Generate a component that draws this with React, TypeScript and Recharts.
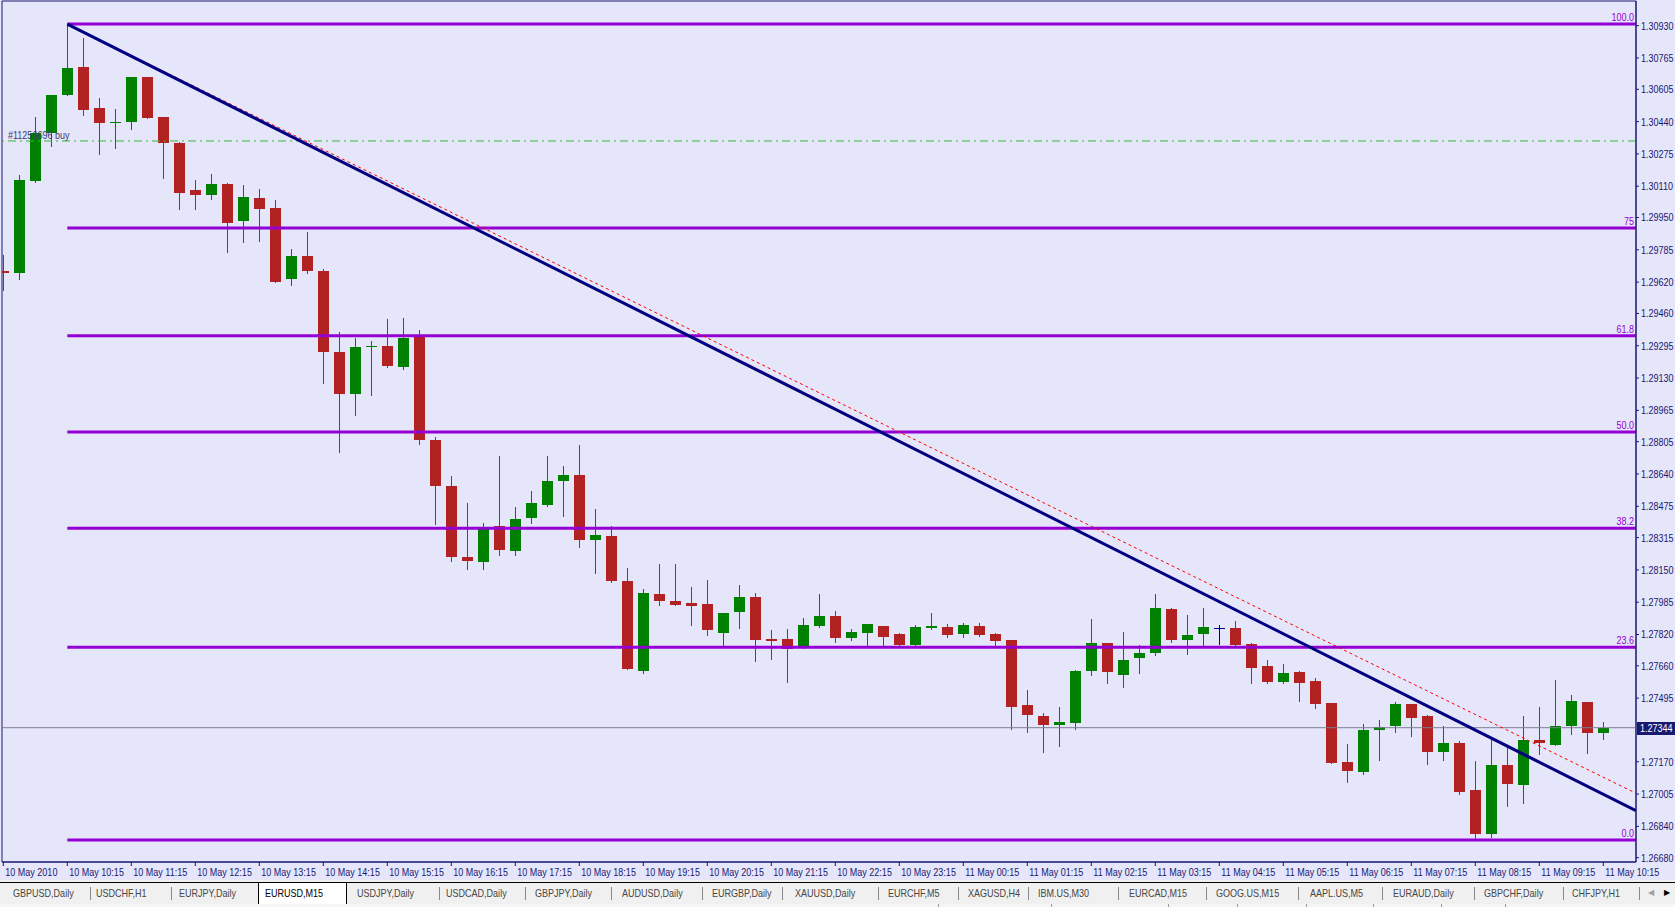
import React from "react";
import { Bar, ComposedChart, ReferenceArea, ReferenceLine, XAxis, YAxis } from "recharts";

// EURUSD M15, 10 May 09:15 -> 11 May 10:15 (101 bars)
const OPEN = [
  1.29677, 1.29668, 1.30137, 1.3038, 1.30577, 1.30719, 1.30509, 1.30433, 1.30436, 1.30666,
  1.30463, 1.30329, 1.30089, 1.30067, 1.30121, 1.29934, 1.3005, 1.29999, 1.29634, 1.29753,
  1.29677, 1.29263, 1.2905, 1.29292, 1.29294, 1.29188, 1.29341, 1.28814, 1.28579, 1.28216,
  1.28192, 1.28373, 1.28248, 1.28417, 1.28482, 1.28606, 1.28635, 1.28304, 1.28323, 1.28095,
  1.27635, 1.28027, 1.2799, 1.27981, 1.27976, 1.27829, 1.27937, 1.28012, 1.27799, 1.27797,
  1.27753, 1.27863, 1.27915, 1.27802, 1.27828, 1.27862, 1.27823, 1.27766, 1.27853, 1.27858,
  1.27823, 1.27864, 1.27823, 1.27792, 1.2746, 1.27404, 1.27359, 1.2737, 1.27634, 1.27777,
  1.27615, 1.27702, 1.27727, 1.2795, 1.27792, 1.27824, 1.27853, 1.27853, 1.27772, 1.27659,
  1.27576, 1.27627, 1.27583, 1.2747, 1.27169, 1.27118, 1.27334, 1.27354, 1.27465, 1.27404,
  1.27221, 1.27266, 1.27026, 1.26802, 1.27153, 1.27053, 1.27283, 1.27257, 1.27354, 1.27475,
  1.27318,
];
const HIGH = [
  1.29759, 1.30169, 1.30462, 1.30576, 1.30938, 1.30865, 1.30559, 1.30504, 1.30668, 1.30668,
  1.30465, 1.30337, 1.3014, 1.30172, 1.30126, 1.30115, 1.30094, 1.3004, 1.29789, 1.29876,
  1.29687, 1.29364, 1.29333, 1.29318, 1.29432, 1.29435, 1.29376, 1.28827, 1.2863, 1.28492,
  1.28388, 1.28732, 1.2847, 1.28553, 1.28732, 1.28681, 1.28788, 1.28461, 1.28374, 1.2816,
  1.28053, 1.2818, 1.2818, 1.28063, 1.28098, 1.2793, 1.28073, 1.28032, 1.27843, 1.27848,
  1.27904, 1.28027, 1.2794, 1.27848, 1.27874, 1.27864, 1.27828, 1.27869, 1.2793, 1.27874,
  1.27879, 1.27879, 1.27828, 1.27794, 1.27537, 1.27419, 1.2745, 1.27639, 1.27899, 1.27779,
  1.27833, 1.27766, 1.28027, 1.27957, 1.2792, 1.27957, 1.27869, 1.27889, 1.27777, 1.2769,
  1.27669, 1.27634, 1.27598, 1.27472, 1.27261, 1.27363, 1.27383, 1.27475, 1.27467, 1.27409,
  1.27353, 1.27276, 1.27174, 1.27281, 1.27251, 1.27404, 1.2745, 1.27588, 1.27511, 1.27477,
  1.27373,
];
const LOW = [
  1.2958, 1.29638, 1.30133, 1.30317, 1.30575, 1.30474, 1.30274, 1.30307, 1.30404, 1.30457,
  1.30153, 1.29996, 1.29996, 1.30046, 1.29772, 1.29827, 1.29832, 1.29619, 1.29604, 1.29667,
  1.29106, 1.28754, 1.28943, 1.29045, 1.29185, 1.29178, 1.28792, 1.28386, 1.28197, 1.28156,
  1.28156, 1.28228, 1.28228, 1.28391, 1.28477, 1.28427, 1.28269, 1.28136, 1.28088, 1.27642,
  1.27625, 1.27971, 1.2797, 1.27869, 1.27818, 1.27758, 1.27855, 1.27686, 1.27697, 1.27579,
  1.27751, 1.2786, 1.27782, 1.27792, 1.27756, 1.27756, 1.27756, 1.27756, 1.27848, 1.27807,
  1.27807, 1.27812, 1.27756, 1.27339, 1.27324, 1.27221, 1.27252, 1.27339, 1.27615, 1.27574,
  1.27554, 1.27625, 1.27717, 1.27783, 1.27722, 1.27758, 1.27773, 1.27758, 1.27574, 1.27574,
  1.27574, 1.27482, 1.27446, 1.27162, 1.27068, 1.27109, 1.27181, 1.27324, 1.27303, 1.2716,
  1.27181, 1.27007, 1.26771, 1.26787, 1.26945, 1.26961, 1.27211, 1.27255, 1.27313, 1.27216,
  1.27288,
];
const CLOSE = [
  1.29667, 1.30142, 1.30383, 1.30574, 1.30714, 1.30501, 1.30434, 1.30436, 1.30666, 1.3046,
  1.30332, 1.30077, 1.30067, 1.30121, 1.29924, 1.30055, 1.29995, 1.29621, 1.29753, 1.29677,
  1.29265, 1.2905, 1.29289, 1.29296, 1.29192, 1.29335, 1.28814, 1.28579, 1.28218, 1.28197,
  1.28363, 1.28253, 1.2841, 1.28492, 1.28604, 1.28635, 1.28304, 1.28327, 1.28095, 1.27645,
  1.28032, 1.27991, 1.27972, 1.27967, 1.27845, 1.27928, 1.28012, 1.27794, 1.27788, 1.27746,
  1.27869, 1.27915, 1.27802, 1.27833, 1.27872, 1.27807, 1.27766, 1.27858, 1.27863, 1.27818,
  1.27869, 1.27818, 1.27787, 1.27451, 1.2741, 1.27359, 1.27373, 1.27634, 1.27777, 1.2763,
  1.2769, 1.27726, 1.27955, 1.27792, 1.27818, 1.27858, 1.27853, 1.27768, 1.27651, 1.27579,
  1.27622, 1.27574, 1.27467, 1.27165, 1.27125, 1.27332, 1.27348, 1.27465, 1.27395, 1.27221,
  1.27266, 1.27017, 1.26802, 1.27153, 1.27058, 1.27281, 1.27267, 1.27353, 1.2748, 1.27318,
  1.27344,
];

const TIME_TICKS = [0, 4, 8, 12, 16, 20, 24, 28, 32, 36, 40, 44, 48, 52, 56, 60, 64, 68, 72, 76, 80, 84, 88, 92, 96, 100];
const TIME_LABELS = [
  "10 May 2010", "10 May 10:15", "10 May 11:15", "10 May 12:15", "10 May 13:15", "10 May 14:15",
  "10 May 15:15", "10 May 16:15", "10 May 17:15", "10 May 18:15", "10 May 19:15", "10 May 20:15",
  "10 May 21:15", "10 May 22:15", "10 May 23:15", "11 May 00:15", "11 May 01:15", "11 May 02:15",
  "11 May 03:15", "11 May 04:15", "11 May 05:15", "11 May 06:15", "11 May 07:15", "11 May 08:15",
  "11 May 09:15", "11 May 10:15",
];
const PRICE_TICKS = [
  1.3093, 1.30765, 1.30605, 1.3044, 1.30275, 1.3011, 1.2995, 1.29785, 1.2962, 1.2946, 1.29295,
  1.2913, 1.28965, 1.28805, 1.2864, 1.28475, 1.28315, 1.2815, 1.27985, 1.2782, 1.2766, 1.27495,
  1.2717, 1.27005, 1.2684, 1.2668,
];

// fibo retracement anchored on bar 4 high / bar 92 low
const FIB_HIGH = 1.30938;
const FIB_LOW = 1.26771;
const FIB_LEVELS = [100, 75, 61.8, 50, 38.2, 23.6, 0];
const FIB_LABELS = ["100.0", "75", "61.8", "50.0", "38.2", "23.6", "0.0"];

// trendline (navy) and its dotted copy (red), from bar 4 to the right edge
const TREND_BARS = [4, 102.04375];
const TREND_PRICES = [1.30938, 1.2692];
const DOT_PRICES = [1.30938, 1.27009];

const ORDER_PRICE = 1.30341;
const ORDER_LABEL = "#11256696 buy";
const LAST_PRICE = 1.27344;

const TABS = [
  "GBPUSD,Daily", "USDCHF,H1", "EURJPY,Daily", "EURUSD,M15", "USDJPY,Daily", "USDCAD,Daily",
  "GBPJPY,Daily", "AUDUSD,Daily", "EURGBP,Daily", "XAUUSD,Daily", "EURCHF,M5", "XAGUSD,H4",
  "IBM.US,M30", "EURCAD,M15", "GOOG.US,M15", "AAPL.US,M5", "EURAUD,Daily", "GBPCHF,Daily", "CHFJPY,H1",
];
const ACTIVE_TAB = 3;

// layout of the terminal chrome (not data)
const TAB_LEFT = [13, 96, 179, 265, 357, 446, 535, 622, 712, 795, 888, 968, 1038, 1129, 1216, 1310, 1393, 1484, 1572];
const TAB_SEP = [90, 171, 439, 525, 611, 702, 782, 878, 958, 1028, 1118, 1206, 1298, 1382, 1474, 1563, 1639];
const STATUS_SEP = [938, 1051, 1168, 1237, 1306, 1373, 1441, 1505];

const XMIN = -0.08125;
const XMAX = 102.04375;
const YMIN = 1.26658;
const YMAX = 1.31056;

const FONT = "'Liberation Sans', Arial, sans-serif";
const SQUEEZE = 0.82; // terminal font is narrower than Liberation Sans
const NAVY = "#191970";
const BULL = "#008000";
const BEAR = "#B22222";
const DOJI = "#000080";
const FIB = "#9400D3";
const BG = "#E6E6FA";

const bars = OPEN.map((o, i) => ({ i, o, h: HIGH[i], l: LOW[i], c: CLOSE[i] }));

function Narrow({ x, y, dy, anchor, fill, children }: any) {
  return (
    <text
      transform={`translate(${x} ${y}) scale(${SQUEEZE} 1)`}
      dy={dy}
      textAnchor={anchor || "start"}
      fontSize={11}
      fontFamily={FONT}
      fill={fill}
    >
      {children}
    </text>
  );
}

function Candle(props: any) {
  const { x, y, width, height, payload } = props;
  if (x == null || y == null || !payload) return null;
  const { o, h, l, c } = payload;
  const top = Math.min(y, y + height);
  const bottom = Math.max(y, y + height);
  const k = h === l ? 0 : (bottom - top) / (h - l);
  const py = (v: number) => top + (h - v) * k;
  const cx = Math.round(x + width / 2) + 0.5;
  const color = c > o ? BULL : c < o ? BEAR : DOJI;
  const bTop = Math.round(py(Math.max(o, c)));
  const bBot = Math.round(py(Math.min(o, c)));
  return (
    <g shapeRendering="crispEdges">
      <line x1={cx} x2={cx} y1={Math.round(top)} y2={Math.round(bottom) + 1} stroke={color} strokeWidth={1} />
      <rect x={cx - 5.5} y={bTop} width={11} height={Math.max(bBot - bTop, 1)} fill={color} />
    </g>
  );
}

function TimeTick(props: any) {
  const { x, y, payload } = props;
  const label = TIME_LABELS[TIME_TICKS.indexOf(payload.value)];
  return (
    <Narrow x={x + 2} y={y} dy="0.71em" fill={NAVY}>
      {label}
    </Narrow>
  );
}

function PriceTick(props: any) {
  const { x, y, payload } = props;
  return (
    <Narrow x={x} y={y} dy="0.355em" fill={NAVY}>
      {Number(payload.value).toFixed(5)}
    </Narrow>
  );
}

function FibTag(props: any) {
  const vb = props.viewBox;
  if (!vb) return null;
  return (
    <Narrow x={vb.x + vb.width - 2} y={vb.y - 3} anchor="end" fill={FIB}>
      {props.text}
    </Narrow>
  );
}

function OrderTag(props: any) {
  const vb = props.viewBox;
  if (!vb) return null;
  return (
    <Narrow x={vb.x + 6} y={vb.y - 2} fill="#3a3a70">
      {ORDER_LABEL}
    </Narrow>
  );
}

function PriceTag(props: any) {
  const vb = props.viewBox;
  if (!vb) return null;
  const x0 = vb.x + vb.width + 1;
  return (
    <g>
      <rect x={x0} y={Math.round(vb.y) - 6} width={40} height={13} fill={NAVY} />
      <Narrow x={x0 + 3} y={vb.y} dy="0.36em" fill="#ffffff">
        {LAST_PRICE.toFixed(5)}
      </Narrow>
    </g>
  );
}

const narrowHtml: React.CSSProperties = {
  position: "absolute",
  top: 886,
  fontSize: 11,
  lineHeight: "14px",
  whiteSpace: "nowrap",
  transform: `scaleX(${SQUEEZE})`,
  transformOrigin: "left center",
};

export default function App() {
  return (
    <div
      style={{
        position: "absolute",
        left: 0,
        top: 0,
        width: 1675,
        height: 907,
        background: "#F0F0F0",
        overflow: "hidden",
        fontFamily: FONT,
      }}
    >
      <div style={{ position: "absolute", left: 0, top: 0, width: 1675, height: 880, background: BG }}>
        <ComposedChart width={1675} height={880} data={bars} margin={{ top: 1, right: 0, bottom: 0, left: 2 }}>
          <XAxis
            type="number"
            dataKey="i"
            domain={[XMIN, XMAX]}
            allowDataOverflow
            ticks={TIME_TICKS}
            interval={0}
            height={18}
            tickSize={4}
            tickMargin={2}
            axisLine={{ stroke: NAVY }}
            tickLine={{ stroke: NAVY }}
            tick={<TimeTick />}
          />
          <YAxis
            orientation="right"
            type="number"
            domain={[YMIN, YMAX]}
            allowDataOverflow
            ticks={PRICE_TICKS}
            interval={0}
            width={39}
            tickSize={3}
            tickMargin={2}
            axisLine={{ stroke: NAVY }}
            tickLine={{ stroke: NAVY }}
            tick={<PriceTick />}
          />
          <ReferenceArea x1={XMIN} x2={XMAX} y1={YMIN} y2={YMAX} fill="none" stroke={NAVY} strokeWidth={1} />
          <ReferenceLine y={ORDER_PRICE} stroke="#33B833" strokeDasharray="8 4 2 4" label={<OrderTag />} />
          <ReferenceLine y={LAST_PRICE} stroke="#7d7d96" strokeWidth={1} label={<PriceTag />} />
          <Bar
            dataKey={(d: any) => [d.l, d.h]}
            barSize={11}
            shape={(p: any) => <Candle {...p} />}
            isAnimationActive={false}
          />
          {FIB_LEVELS.map((lv, j) => {
            const p = FIB_LOW + ((FIB_HIGH - FIB_LOW) * lv) / 100;
            return (
              <ReferenceLine
                key={lv}
                segment={[
                  { x: TREND_BARS[0], y: p },
                  { x: XMAX, y: p },
                ]}
                stroke={FIB}
                strokeWidth={3}
                ifOverflow="hidden"
                label={<FibTag text={FIB_LABELS[j]} />}
              />
            );
          })}
          <ReferenceLine
            segment={[
              { x: TREND_BARS[0], y: DOT_PRICES[0] },
              { x: TREND_BARS[1], y: DOT_PRICES[1] },
            ]}
            stroke="#FF0000"
            strokeWidth={1}
            strokeDasharray="3 3"
            ifOverflow="hidden"
          />
          <ReferenceLine
            segment={[
              { x: TREND_BARS[0], y: TREND_PRICES[0] },
              { x: TREND_BARS[1], y: TREND_PRICES[1] },
            ]}
            stroke="#000080"
            strokeWidth={3}
            ifOverflow="hidden"
          />
        </ComposedChart>
      </div>

      {/* terminal tab bar */}
      <div style={{ position: "absolute", left: 0, top: 882, width: 1675, height: 1, background: "#000" }} />
      <div
        style={{
          position: "absolute",
          left: 258,
          top: 882,
          width: 87,
          height: 21,
          background: "#fff",
          border: "1px solid #000",
        }}
      />
      {TAB_SEP.map((x) => (
        <div key={x} style={{ position: "absolute", left: x, top: 887, width: 1, height: 13, background: "#8a8a8a" }} />
      ))}
      {TABS.map((t, i) => (
        <div key={t} style={{ ...narrowHtml, left: TAB_LEFT[i], color: i === ACTIVE_TAB ? "#000" : "#454545" }}>
          {t}
        </div>
      ))}
      <div style={{ position: "absolute", left: 1648, top: 886, fontSize: 8, lineHeight: "14px", color: "#a0a0a0", fontFamily: "DejaVu Sans" }}>
        ◀
      </div>
      <div style={{ position: "absolute", left: 1664, top: 886, fontSize: 8, lineHeight: "14px", color: "#000", fontFamily: "DejaVu Sans" }}>
        ▶
      </div>
      <div style={{ position: "absolute", left: 0, top: 904, width: 1675, height: 3, background: "#F6F6F6" }} />
      {STATUS_SEP.map((x) => (
        <div key={x} style={{ position: "absolute", left: x, top: 904, width: 1, height: 3, background: "#9a9a9a" }} />
      ))}
    </div>
  );
}
